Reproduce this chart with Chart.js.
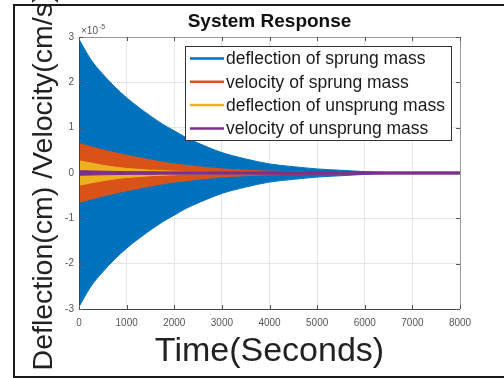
<!DOCTYPE html>
<html>
<head>
<meta charset="utf-8">
<script src="https://cdn.jsdelivr.net/npm/chart.js@4.4.1/dist/chart.umd.min.js"></script>
<style>
  html, body { margin: 0; padding: 0; background: #fff; overflow: hidden; }
  #wrap { position: relative; width: 504px; height: 378px; }
  #frame { position: absolute; left: 13px; top: 4px; width: 520px; height: 370px; border: 2px solid #1a1a1a; }
  #chart { position: absolute; left: 0; top: 0; }
</style>
</head>
<body>
<div id="wrap">
  <div id="frame"></div>
  <canvas id="chart" width="504" height="378"></canvas>
</div>
<script>
// envelope amplitudes of each response, in units of 1e-5
const times = [0, 250, 500, 750, 1000, 1250, 1500, 1750, 2000, 2250, 2500, 3000, 3500, 4000, 4500, 5000, 5500, 6000, 6500, 7000, 8000];
const sprungDeflection   = [2.95, 2.5, 2.18, 1.9, 1.66, 1.45, 1.26, 1.08, 0.93, 0.78, 0.66, 0.45, 0.31, 0.2, 0.14, 0.09, 0.06, 0.03, 0.01, 0.01, 0.01];
const sprungVelocity     = [0.65, 0.58, 0.51, 0.45, 0.39, 0.34, 0.29, 0.24, 0.2, 0.17, 0.14, 0.09, 0.06, 0.04, 0.03, 0.02, 0.02, 0.01, 0.01, 0.01, 0.01];
const unsprungDeflection = [0.27, 0.22, 0.17, 0.13, 0.1, 0.08, 0.06, 0.05, 0.04, 0.03, 0.03, 0.02, 0.02, 0.01, 0.01, 0.01, 0.01, 0.01, 0.01, 0.01, 0.01];
const unsprungVelocity   = [0.05, 0.045, 0.04, 0.035, 0.03, 0.03, 0.03, 0.025, 0.025, 0.025, 0.025, 0.025, 0.025, 0.025, 0.025, 0.025, 0.025, 0.025, 0.025, 0.025, 0.025];

const labels = ["deflection of sprung mass", "velocity of sprung mass", "deflection of unsprung mass", "velocity of unsprung mass"];
const colors = ["#0072BD", "#D95319", "#EDB120", "#7E2F8E"];
const series = [sprungDeflection, sprungVelocity, unsprungDeflection, unsprungVelocity];

const FONT = "'Liberation Sans', Arial, Helvetica, sans-serif";

const datasets = [];
series.forEach((vals, k) => {
    datasets.push({
        label: labels[k],
        data: times.map((t, i) => ({ x: t, y: vals[i] })),
        borderColor: colors[k],
        backgroundColor: colors[k],
        borderWidth: 1,
        pointRadius: 0,
        cubicInterpolationMode: "monotone",
        fill: "+1",
        order: 4 - k
    });
    datasets.push({
        label: labels[k] + " lower",
        data: times.map((t, i) => ({ x: t, y: -vals[i] })),
        borderColor: colors[k],
        borderWidth: 1,
        pointRadius: 0,
        cubicInterpolationMode: "monotone",
        fill: false,
        order: 4 - k
    });
});

const decorations = {
    id: "decorations",
    afterDraw(chart) {
        const ctx = chart.ctx;
        const a = chart.chartArea;
        const xs = chart.scales.x, ys = chart.scales.y;
        ctx.save();

        // box: top/right lighter, left/bottom dark
        ctx.lineWidth = 1;
        ctx.strokeStyle = "#9a9a9a";
        ctx.beginPath();
        ctx.moveTo(a.left, a.top + 0.5); ctx.lineTo(a.right + 0.5, a.top + 0.5); ctx.lineTo(a.right + 0.5, a.bottom);
        ctx.stroke();
        ctx.strokeStyle = "#444";
        ctx.beginPath();
        ctx.moveTo(a.left + 0.5, a.top); ctx.lineTo(a.left + 0.5, a.bottom + 0.5); ctx.lineTo(a.right, a.bottom + 0.5);
        ctx.stroke();

        // inward tick marks
        ctx.strokeStyle = "#555";
        xs.ticks.forEach(t => {
            const px = Math.round(xs.getPixelForValue(t.value)) + 0.5;
            ctx.beginPath();
            ctx.moveTo(px, a.bottom); ctx.lineTo(px, a.bottom - 4);
            ctx.moveTo(px, a.top); ctx.lineTo(px, a.top + 4);
            ctx.stroke();
        });
        ys.ticks.forEach(t => {
            const py = Math.round(ys.getPixelForValue(t.value)) + 0.5;
            ctx.beginPath();
            ctx.moveTo(a.left, py); ctx.lineTo(a.left + 4, py);
            ctx.moveTo(a.right, py); ctx.lineTo(a.right - 4, py);
            ctx.stroke();
        });

        // exponent label
        ctx.fillStyle = "#555";
        ctx.textBaseline = "alphabetic";
        ctx.textAlign = "left";
        ctx.font = "10px " + FONT;
        ctx.fillText("\u00d710", a.left + 2, a.top - 3);
        const w = ctx.measureText("\u00d710").width;
        ctx.font = "7px " + FONT;
        ctx.fillText("-5", a.left + 2 + w + 1, a.top - 8);

        // legend box
        const lx = 185, ly = 46, lw = 266, lh = 94;
        ctx.fillStyle = "#fff";
        ctx.fillRect(lx, ly, lw, lh);
        ctx.strokeStyle = "#333";
        ctx.lineWidth = 1;
        ctx.strokeRect(lx + 0.5, ly + 0.5, lw, lh);
        ctx.font = "17.5px " + FONT;
        ctx.textBaseline = "middle";
        labels.forEach((lab, i) => {
            const cy = 58.5 + i * 23.3;
            ctx.strokeStyle = colors[i];
            ctx.lineWidth = 2.5;
            ctx.beginPath();
            ctx.moveTo(190, cy); ctx.lineTo(224, cy);
            ctx.stroke();
            ctx.fillStyle = "#1a1a1a";
            ctx.fillText(lab, 226, cy + 1);
        });

        // y axis title (overflows the axis like the original)
        ctx.translate(44, 182);
        ctx.rotate(-Math.PI / 2);
        ctx.textAlign = "center";
        ctx.textBaseline = "middle";
        ctx.font = "28.5px " + FONT;
        ctx.fillStyle = "#222";
        ctx.fillText("Deflection(cm) /Velocity(cm/s)", 0, 0);
        ctx.restore();
    }
};

const whiteArea = {
    id: "whiteArea",
    beforeDraw(chart) {
        const a = chart.chartArea;
        chart.ctx.save();
        chart.ctx.fillStyle = "#fff";
        chart.ctx.fillRect(a.left, a.top, a.right - a.left, a.bottom - a.top);
        chart.ctx.restore();
    }
};

new Chart(document.getElementById("chart").getContext("2d"), {
    type: "line",
    data: { datasets: datasets },
    plugins: [whiteArea, decorations],
    options: {
        responsive: false,
        animation: false,
        layout: { padding: { left: 0, right: 44, top: 0, bottom: 0 } },
        plugins: {
            legend: { display: false },
            tooltip: { enabled: false },
            title: {
                display: true,
                fullSize: false,
                text: "System Response",
                color: "#111",
                font: { family: FONT, size: 19, weight: "bold", lineHeight: 1.2 },
                padding: { top: 10, bottom: 4.2 }
            }
        },
        scales: {
            x: {
                type: "linear",
                min: 0,
                max: 8000,
                ticks: { stepSize: 1000, color: "#555", padding: 8, font: { family: FONT, size: 10 }, maxRotation: 0,
                         callback: v => String(v) },
                grid: { color: "#e6e6e6", drawTicks: false },
                border: { display: false },
                title: {
                    display: true,
                    text: "Time(Seconds)",
                    color: "#222",
                    font: { family: FONT, size: 34, lineHeight: 1.2 },
                    padding: { top: 0, bottom: 6 }
                },
                afterFit: s => { s.height = 69; }
            },
            y: {
                min: -3,
                max: 3,
                ticks: { stepSize: 1, color: "#555", padding: 5, font: { family: FONT, size: 10 },
                         callback: v => String(v) },
                grid: { color: "#e6e6e6", drawTicks: false },
                border: { display: false },
                afterFit: s => { s.width = 79; }
            }
        }
    }
});
</script>
</body>
</html>
